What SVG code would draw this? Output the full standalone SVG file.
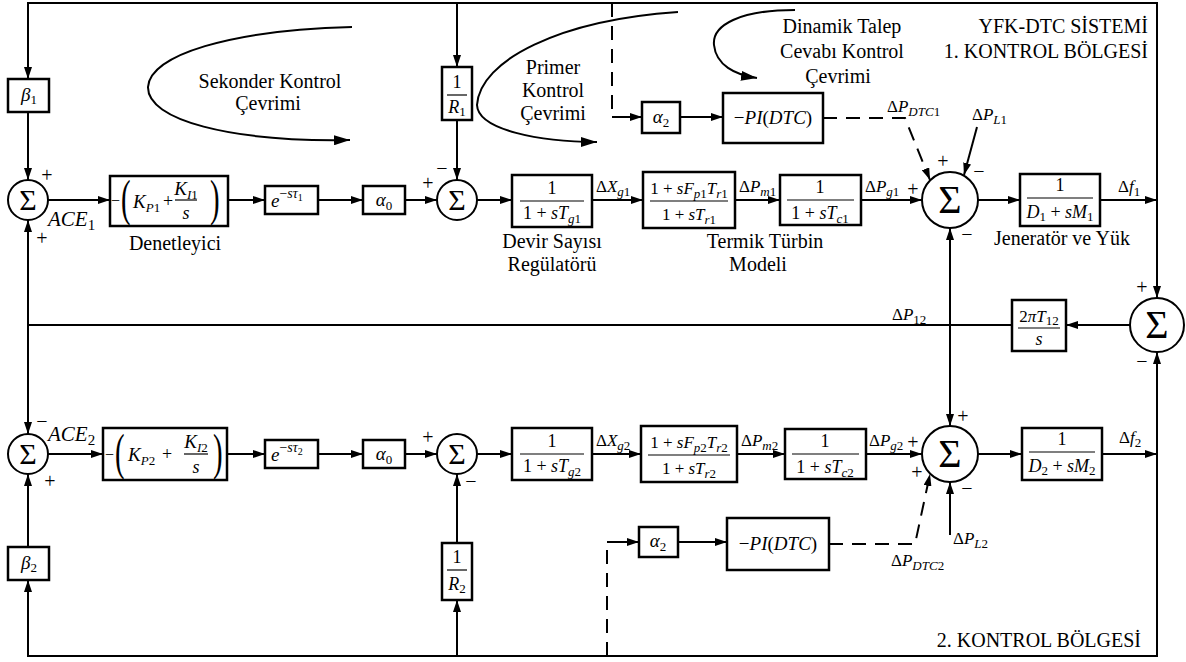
<svg xmlns="http://www.w3.org/2000/svg" width="1186" height="662" viewBox="0 0 1186 662">
<defs>
<marker id="ar" viewBox="0 0 12 8" refX="12" refY="4" markerWidth="12" markerHeight="8" markerUnits="userSpaceOnUse" orient="auto"><path d="M0,0L12,4L0,8z" fill="#000"/></marker>
<marker id="arb" viewBox="0 0 16 10" refX="16" refY="5" markerWidth="16" markerHeight="10" markerUnits="userSpaceOnUse" orient="auto"><path d="M0,0L16,5L0,10z" fill="#000"/></marker>
</defs>
<style>
.l{fill:none;stroke:#000;stroke-width:2}
.a{marker-end:url(#ar)}
.ab{marker-end:url(#arb)}
.d{stroke-dasharray:14 9}
.b{fill:#fff;stroke:#000;stroke-width:2.5}
.c{fill:#fff;stroke:#000;stroke-width:2}
.bar{stroke:#000;stroke-width:1.2}
text{font-family:"Liberation Serif","Times New Roman",serif;fill:#000}
.lb{font-size:20px}
.mid{text-anchor:middle}
.end{text-anchor:end}
.i{font-style:italic}
.n{font-style:normal}
.s{font-size:13px}
.f{font-size:18px}
.sg{font-size:20px;text-anchor:middle}
.sig{font-size:30px;text-anchor:middle}
.sigb{font-size:40px;text-anchor:middle}
.pr{font-size:36px}
</style>
<rect x="0" y="0" width="1186" height="662" fill="#fff"/>

<g id="connectors">
<path class="l" d="M1157,200 V3 H28 V79" marker-end="url(#ar)"/>
<path class="l a" d="M1157,200 V298"/>
<path class="l a" d="M457,3 V67"/>
<path class="l d" d="M612,3 V117"/>
<path class="l a" d="M612,117 H642"/>
<path class="l a" d="M28,112 V180"/>
<path class="l a" d="M457,120 V180"/>
<path class="l a" d="M48,200 H110"/>
<path class="l a" d="M228,200 H265"/>
<path class="l a" d="M318,200 H363"/>
<path class="l a" d="M405,200 H437"/>
<path class="l a" d="M477,200 H512"/>
<path class="l a" d="M592,200 H643"/>
<path class="l a" d="M735,200 H780"/>
<path class="l a" d="M861,200 H922"/>
<path class="l a" d="M978,200 H1020"/>
<path class="l a" d="M1100,200 H1157"/>
<path class="l a" d="M680,117 H723"/>
<path class="l d a" d="M823,118 H905 L930,180"/>
<path class="l a" d="M977,127 L964,175"/>
<path class="l a" d="M1130,325 H1066"/>
<path class="l" d="M1012,325 H28"/>
<path class="l a" d="M28,325 V220"/>
<path class="l a" d="M28,325 V434"/>
<path class="l a" d="M950,325 V228"/>
<path class="l a" d="M950,325 V426"/>
<path class="l a" d="M1157,454 V352"/>
<path class="l" d="M1157,454 V656 H28 V580" marker-end="url(#ar)"/>
<path class="l a" d="M457,656 V600"/>
<path class="l d" d="M607,656 V542"/>
<path class="l a" d="M607,542 H639"/>
<path class="l a" d="M28,547 V474"/>
<path class="l a" d="M457,543 V474"/>
<path class="l a" d="M48,454 H103"/>
<path class="l a" d="M227,454 H265"/>
<path class="l a" d="M318,454 H363"/>
<path class="l a" d="M405,454 H437"/>
<path class="l a" d="M477,454 H512"/>
<path class="l a" d="M592,454 H641"/>
<path class="l a" d="M737,454 H785"/>
<path class="l a" d="M866,454 H922"/>
<path class="l a" d="M978,454 H1022"/>
<path class="l a" d="M1102,454 H1157"/>
<path class="l a" d="M678,542 H727"/>
<path class="l d a" d="M829,544 H915 L930,474"/>
<path class="l a" d="M950,535 V482"/>
<path class="l ab" d="M352,27 C230,30 150,55 148,87 C147,120 230,142 350,140"/>
<path class="l ab" d="M678,12 C560,20 480,60 477,105 C478,130 540,142 597,142"/>
<path class="l ab" d="M795,10 C740,10 712,25 714,45 C716,65 735,75 757,78"/>
</g>

<g id="beta1"><rect class="b" x="8" y="79" width="41" height="33"/><text class="mid" x="29" y="101"><tspan class="i" font-size="19">β</tspan><tspan class="s" dy="3">1</tspan></text></g>
<g id="sum1"><circle class="c" cx="28" cy="200" r="20"/><text class="sig" x="28" y="210">Σ</text><text class="sg" x="47" y="182">+</text><text class="sg" x="42" y="245">+</text><text x="48" y="226" class="i" font-size="21">ACE<tspan class="n" font-size="15" dy="4">1</tspan></text></g>
<g id="k1"><rect class="b" x="110" y="176" width="118" height="50"/>
<text x="111" y="206" font-size="16">−</text>
<text class="pr" transform="translate(121,215) scale(0.8,1.4)">(</text>
<text x="133" y="208" class="i" font-size="19">K<tspan class="s" dy="4">P</tspan><tspan class="s n">1</tspan></text>
<text x="163" y="207" class="f">+</text>
<text x="186" y="195" class="mid i" font-size="19">K<tspan class="s" dy="4">I</tspan><tspan class="s n">1</tspan></text>
<line class="bar" x1="175" y1="200" x2="197" y2="200"/>
<text x="186" y="219" class="mid i f">s</text>
<text class="pr" transform="translate(210,215) scale(0.8,1.4)">)</text>
<text x="175" y="250" class="lb mid">Denetleyici</text></g>
<g id="delay1"><rect class="b" x="265" y="186" width="53" height="28"/><text x="271" y="207" class="i" font-size="19">e<tspan font-size="14" dy="-9" class="n">−</tspan><tspan font-size="14">sτ</tspan><tspan font-size="10" class="n" dy="3">1</tspan></text></g>
<g id="alpha01"><rect class="b" x="363" y="186" width="42" height="28"/><text x="384" y="206" class="mid"><tspan class="i" font-size="19">α</tspan><tspan class="s" dy="4">0</tspan></text></g>
<g id="r1"><rect class="b" x="442" y="67" width="30" height="53"/><text x="457" y="88" class="mid f">1</text><line class="bar" x1="447" y1="95" x2="467" y2="95"/><text x="457" y="113" class="mid"><tspan class="i f">R</tspan><tspan class="s" dy="3">1</tspan></text></g>
<g id="sum2"><circle class="c" cx="457" cy="200" r="20"/><text class="sig" x="457" y="210">Σ</text><text class="sg" x="428" y="190">+</text><text class="sg" x="442" y="175">−</text></g>
<g id="gov1"><rect class="b" x="512" y="175" width="80" height="52"/><text x="552" y="194" class="mid f">1</text><line class="bar" x1="520" y1="201" x2="584" y2="201"/><text x="552" y="219" class="mid f">1 + <tspan class="i">sT</tspan><tspan class="s i" dy="4">g</tspan><tspan class="s">1</tspan></text>
<text x="552" y="248" class="lb mid">Devir Sayısı</text><text x="552" y="271" class="lb mid">Regülatörü</text></g>
<g id="turb1"><rect class="b" x="643" y="172" width="92" height="56"/><text x="689" y="194" class="mid" font-size="17">1 + <tspan class="i">sF</tspan><tspan class="s i" dy="4">p</tspan><tspan class="s">1</tspan><tspan class="i" dy="-4">T</tspan><tspan class="s i" dy="4">r</tspan><tspan class="s">1</tspan></text><line class="bar" x1="650" y1="201" x2="728" y2="201"/><text x="689" y="220" class="mid" font-size="17">1 + <tspan class="i">sT</tspan><tspan class="s i" dy="4">r</tspan><tspan class="s">1</tspan></text>
<text x="765" y="248" class="lb mid">Termik Türbin</text><text x="758" y="271" class="lb mid">Modeli</text></g>
<g id="tc1"><rect class="b" x="780" y="175" width="81" height="50"/><text x="820" y="193" class="mid f">1</text><line class="bar" x1="787" y1="200" x2="854" y2="200"/><text x="820" y="219" class="mid f">1 + <tspan class="i">sT</tspan><tspan class="s i" dy="4">c</tspan><tspan class="s">1</tspan></text></g>
<g id="sum3"><circle class="c" cx="950" cy="200" r="28"/><text class="sigb" x="950" y="213">Σ</text><text class="sg" x="943" y="168">+</text><text class="sg" x="979" y="178">−</text><text class="sg" x="913" y="196">+</text><text class="sg" x="967" y="241">−</text></g>
<g id="gen1"><rect class="b" x="1020" y="174" width="80" height="52"/><text x="1060" y="191" class="mid f">1</text><line class="bar" x1="1027" y1="198" x2="1093" y2="198"/><text x="1060" y="218" class="mid f"><tspan class="i">D</tspan><tspan class="s" dy="3">1</tspan><tspan dy="-3"> + </tspan><tspan class="i">sM</tspan><tspan class="s" dy="3">1</tspan></text>
<text x="1062" y="245" class="lb mid">Jeneratör ve Yük</text></g>
<g id="alpha21"><rect class="b" x="642" y="102" width="38" height="31"/><text x="661" y="123" class="mid"><tspan class="i" font-size="19">α</tspan><tspan class="s" dy="4">2</tspan></text></g>
<g id="pidtc1"><rect class="b" x="723" y="93" width="100" height="50"/><text x="773" y="124" class="mid" font-size="19">−<tspan class="i">PI</tspan>(<tspan class="i">DTC</tspan>)</text></g>

<g id="tie"><rect class="b" x="1012" y="300" width="54" height="51"/><text x="1039" y="322" class="mid" font-size="17">2<tspan class="i">πT</tspan><tspan class="s" dy="3">12</tspan></text><line class="bar" x1="1018" y1="328" x2="1060" y2="328"/><text x="1039" y="345" class="mid i f">s</text></g>
<g id="sumtie"><circle class="c" cx="1157" cy="325" r="27"/><text class="sigb" x="1157" y="338">Σ</text><text class="sg" x="1142" y="294">+</text><text class="sg" x="1142" y="368">−</text></g>

<g id="beta2"><rect class="b" x="8" y="547" width="41" height="33"/><text class="mid" x="29" y="569"><tspan class="i" font-size="19">β</tspan><tspan class="s" dy="3">2</tspan></text></g>
<g id="sum4"><circle class="c" cx="28" cy="454" r="20"/><text class="sig" x="28" y="464">Σ</text><text class="sg" x="42" y="428">−</text><text class="sg" x="50" y="488">+</text><text x="48" y="441" class="i" font-size="21">ACE<tspan class="n" font-size="15" dy="4">2</tspan></text></g>
<g id="k2"><rect class="b" x="103" y="428" width="124" height="52"/>
<text x="105" y="460" font-size="16">−</text>
<text class="pr" transform="translate(115,469) scale(0.8,1.4)">(</text>
<text x="128" y="461" class="i" font-size="19">K<tspan class="s" dy="4">P</tspan><tspan class="s n">2</tspan></text>
<text x="162" y="460" class="f">+</text>
<text x="196" y="448" class="mid i" font-size="19">K<tspan class="s" dy="4">I</tspan><tspan class="s n">2</tspan></text>
<line class="bar" x1="184" y1="454" x2="208" y2="454"/>
<text x="196" y="473" class="mid i f">s</text>
<text class="pr" transform="translate(213,469) scale(0.8,1.4)">)</text></g>
<g id="delay2"><rect class="b" x="265" y="440" width="53" height="28"/><text x="271" y="461" class="i" font-size="19">e<tspan font-size="14" dy="-9" class="n">−</tspan><tspan font-size="14">sτ</tspan><tspan font-size="10" class="n" dy="3">2</tspan></text></g>
<g id="alpha02"><rect class="b" x="363" y="440" width="42" height="28"/><text x="384" y="460" class="mid"><tspan class="i" font-size="19">α</tspan><tspan class="s" dy="4">0</tspan></text></g>
<g id="r2"><rect class="b" x="442" y="543" width="30" height="57"/><text x="457" y="563" class="mid f">1</text><line class="bar" x1="447" y1="570" x2="467" y2="570"/><text x="457" y="590" class="mid"><tspan class="i f">R</tspan><tspan class="s" dy="3">2</tspan></text></g>
<g id="sum5"><circle class="c" cx="457" cy="454" r="20"/><text class="sig" x="457" y="464">Σ</text><text class="sg" x="428" y="444">+</text><text class="sg" x="471" y="488">−</text></g>
<g id="gov2"><rect class="b" x="512" y="428" width="80" height="52"/><text x="552" y="447" class="mid f">1</text><line class="bar" x1="520" y1="454" x2="584" y2="454"/><text x="552" y="472" class="mid f">1 + <tspan class="i">sT</tspan><tspan class="s i" dy="4">g</tspan><tspan class="s">2</tspan></text></g>
<g id="turb2"><rect class="b" x="641" y="426" width="96" height="56"/><text x="689" y="448" class="mid" font-size="17">1 + <tspan class="i">sF</tspan><tspan class="s i" dy="4">p</tspan><tspan class="s">2</tspan><tspan class="i" dy="-4">T</tspan><tspan class="s i" dy="4">r</tspan><tspan class="s">2</tspan></text><line class="bar" x1="648" y1="455" x2="730" y2="455"/><text x="689" y="474" class="mid" font-size="17">1 + <tspan class="i">sT</tspan><tspan class="s i" dy="4">r</tspan><tspan class="s">2</tspan></text></g>
<g id="tc2"><rect class="b" x="785" y="429" width="81" height="50"/><text x="825" y="447" class="mid f">1</text><line class="bar" x1="792" y1="454" x2="859" y2="454"/><text x="825" y="473" class="mid f">1 + <tspan class="i">sT</tspan><tspan class="s i" dy="4">c</tspan><tspan class="s">2</tspan></text></g>
<g id="sum6"><circle class="c" cx="950" cy="454" r="28"/><text class="sigb" x="950" y="467">Σ</text><text class="sg" x="963" y="423">+</text><text class="sg" x="913" y="449">+</text><text class="sg" x="917" y="479">+</text><text class="sg" x="967" y="495">−</text></g>
<g id="gen2"><rect class="b" x="1022" y="428" width="80" height="52"/><text x="1062" y="445" class="mid f">1</text><line class="bar" x1="1029" y1="452" x2="1095" y2="452"/><text x="1062" y="472" class="mid f"><tspan class="i">D</tspan><tspan class="s" dy="3">2</tspan><tspan dy="-3"> + </tspan><tspan class="i">sM</tspan><tspan class="s" dy="3">2</tspan></text></g>
<g id="alpha22"><rect class="b" x="639" y="527" width="39" height="30"/><text x="658" y="547" class="mid"><tspan class="i" font-size="19">α</tspan><tspan class="s" dy="4">2</tspan></text></g>
<g id="pidtc2"><rect class="b" x="727" y="518" width="102" height="52"/><text x="778" y="550" class="mid" font-size="19">−<tspan class="i">PI</tspan>(<tspan class="i">DTC</tspan>)</text></g>

<g id="labels">
<text x="596" y="192" font-size="17">Δ<tspan class="i">X</tspan><tspan class="s i" dy="4">g</tspan><tspan class="s">1</tspan></text>
<text x="739" y="192" font-size="17">Δ<tspan class="i">P</tspan><tspan class="s i" dy="4">m</tspan><tspan class="s">1</tspan></text>
<text x="865" y="192" font-size="17">Δ<tspan class="i">P</tspan><tspan class="s i" dy="4">g</tspan><tspan class="s">1</tspan></text>
<text x="1118" y="192" font-size="17">Δ<tspan class="i">f</tspan><tspan class="s" dy="4">1</tspan></text>
<text x="596" y="446" font-size="17">Δ<tspan class="i">X</tspan><tspan class="s i" dy="4">g</tspan><tspan class="s">2</tspan></text>
<text x="741" y="446" font-size="17">Δ<tspan class="i">P</tspan><tspan class="s i" dy="4">m</tspan><tspan class="s">2</tspan></text>
<text x="869" y="446" font-size="17">Δ<tspan class="i">P</tspan><tspan class="s i" dy="4">g</tspan><tspan class="s">2</tspan></text>
<text x="1119" y="443" font-size="17">Δ<tspan class="i">f</tspan><tspan class="s" dy="4">2</tspan></text>
<text x="892" y="320" font-size="17">Δ<tspan class="i">P</tspan><tspan class="s" dy="4">12</tspan></text>
<text x="887" y="112" font-size="17">Δ<tspan class="i">P</tspan><tspan class="s i" dy="4">DTC</tspan><tspan class="s">1</tspan></text>
<text x="972" y="120" font-size="17">Δ<tspan class="i">P</tspan><tspan class="s i" dy="4">L</tspan><tspan class="s">1</tspan></text>
<text x="891" y="566" font-size="17">Δ<tspan class="i">P</tspan><tspan class="s i" dy="4">DTC</tspan><tspan class="s">2</tspan></text>
<text x="953" y="544" font-size="17">Δ<tspan class="i">P</tspan><tspan class="s i" dy="4">L</tspan><tspan class="s">2</tspan></text>
<text x="270" y="88" class="lb mid">Sekonder Kontrol</text>
<text x="268" y="110" class="lb mid">Çevrimi</text>
<text x="553" y="74" class="lb mid">Primer</text>
<text x="553" y="97" class="lb mid">Kontrol</text>
<text x="553" y="120" class="lb mid">Çevrimi</text>
<text x="842" y="33" class="lb mid">Dinamik Talep</text>
<text x="842" y="58" class="lb mid">Cevabı Kontrol</text>
<text x="838" y="83" class="lb mid">Çevrimi</text>
<text x="1148" y="33" class="lb end">YFK-DTC SİSTEMİ</text>
<text x="1148" y="58" class="lb end">1. KONTROL BÖLGESİ</text>
<text x="1141" y="647" class="lb end">2. KONTROL BÖLGESİ</text>
</g>
</svg>
